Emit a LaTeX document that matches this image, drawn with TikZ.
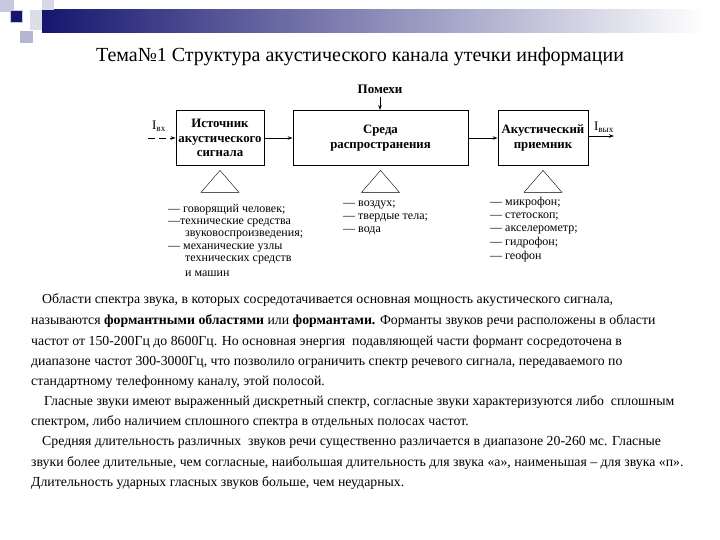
\documentclass[tikz,border=0pt]{standalone}
\usepackage{fontspec}
\setmainfont{Liberation Serif}
\usetikzlibrary{arrows.meta}
\definecolor{sinij}{RGB}{22,22,112}
\definecolor{svetl}{RGB}{200,200,222}

\begin{document}
\begin{tikzpicture}[x=1pt,y=-1pt,
	blok/.style={draw, thick, minimum width=#1, minimum height=55pt, align=center,
		inner sep=0pt, font=\bfseries\fontsize{12.8}{14.5}\selectfont},
	strelka/.style={-{Stealth[length=5pt,width=3.5pt]}, thick},
	spisok/.style={anchor=west, inner sep=0pt, font=\fontsize{12}{13}\selectfont},
	stroka/.style={anchor=west, inner sep=0pt, font=\fontsize{13.8}{15}\selectfont}]
	\useasboundingbox (0,0) rectangle (720,540);
	
	% 绘制页眉
	\shade[left color=sinij, right color=white] (42,10) rectangle (705,33);
	\fill[svetl] (0,0) rectangle (14,12);
	\fill[svetl!70] (42,0) rectangle (54,10);
	\fill[svetl!60] (30,10) rectangle (42,30);
	\fill[sinij, draw=svetl] (10,10) rectangle (22,22);
	\fill[svetl!90!sinij] (20,31) rectangle (33,43);
	\node[font=\fontsize{20}{22}\selectfont] (tema) at (360,57)
		{Тема№1 Структура акустического канала утечки информации};
	
	% 绘制方框
	\node[blok=88pt] (ist) at (220,138) {Источник\\акустического\\сигнала};
	\node[blok=175pt] (sreda) at (380.5,138) {Среда\\распространения};
	\node[blok=90pt] (priem) at (543,138) {Акустический\\приемник};
	\node[font=\bfseries\fontsize{13}{14}\selectfont] (pomehi) at (380,89) {Помехи};
	
	% 绘制箭头
	\coordinate (vh) at (148,138);
	\coordinate (vyh) at (614,136);
	\draw[strelka, dash pattern=on 7pt off 4pt] (vh) -- (ist.west);
	\node[font=\fontsize{13}{14}\selectfont] (Ivh) at (159,126) {I\textsubscript{вх}};
	\draw[strelka] (ist) -- (sreda);
	\draw[strelka] (sreda) -- (priem);
	\draw[strelka] (priem.east |- vyh) -- (vyh);
	\node[font=\fontsize{13}{14}\selectfont] (Ivyh) at (604,127) {I\textsubscript{вых}};
	\draw[strelka] (pomehi) -- (pomehi |- sreda.north);
	
	% 绘制三角形
	\foreach \b in {ist,sreda,priem}
		\draw ([yshift=-4.5pt]\b.south) -- ++(19,22) -- ++(-38,0) -- cycle;
	
	% 标注列表
	\foreach \y/\x/\t [count=\i] in {210/168/{— говорящий человек;},
			223/168/{—технические средства}, 235/185/{звуковоспроизведения;},
			248/168/{— механические узлы}, 260/185/{технических средств},
			274/185/{и машин}}
		\node[spisok] (lev\i) at (\x,\y) {\t};
	\foreach \y/\t [count=\i] in {205/{— воздух;}, 218/{— твердые тела;}, 231/{— вода}}
		\node[spisok] (sred\i) at (343,\y) {\t};
	\foreach \y/\t [count=\i] in {203/{— микрофон;}, 217/{— стетоскоп;},
			230/{— акселерометр;}, 243/{— гидрофон;}, 257/{— геофон}}
		\node[spisok] (prav\i) at (490,\y) {\t};
	
	% 正文
	\foreach \y/\x/\t [count=\i] in {
			300/42/{Области спектра звука, в которых сосредотачивается основная мощность акустического сигнала,},
			321/31/{называются \textbf{формантными областями} или \textbf{формантами.} Форманты звуков речи расположены в области},
			342/31/{частот от 150-200Гц до 8600Гц. Но основная энергия\ \ подавляющей части формант сосредоточена в},
			362/31/{диапазоне частот 300-3000Гц, что позволило ограничить спектр речевого сигнала, передаваемого по},
			382/31/{стандартному телефонному каналу, этой полосой.},
			402/44/{Гласные звуки имеют выраженный дискретный спектр, согласные звуки характеризуются либо\ \ сплошным},
			422/31/{спектром, либо наличием сплошного спектра в отдельных полосах частот.},
			442/42/{Средняя длительность различных\ \ звуков речи существенно различается в диапазоне 20-260 мс. Гласные},
			463/31/{звуки более длительные, чем согласные, наибольшая длительность для звука «а», наименьшая – для звука «п».},
			483/31/{Длительность ударных гласных звуков больше, чем неударных.}}
		\node[stroka] (abz\i) at (\x,\y) {\t};
\end{tikzpicture}
\end{document}
